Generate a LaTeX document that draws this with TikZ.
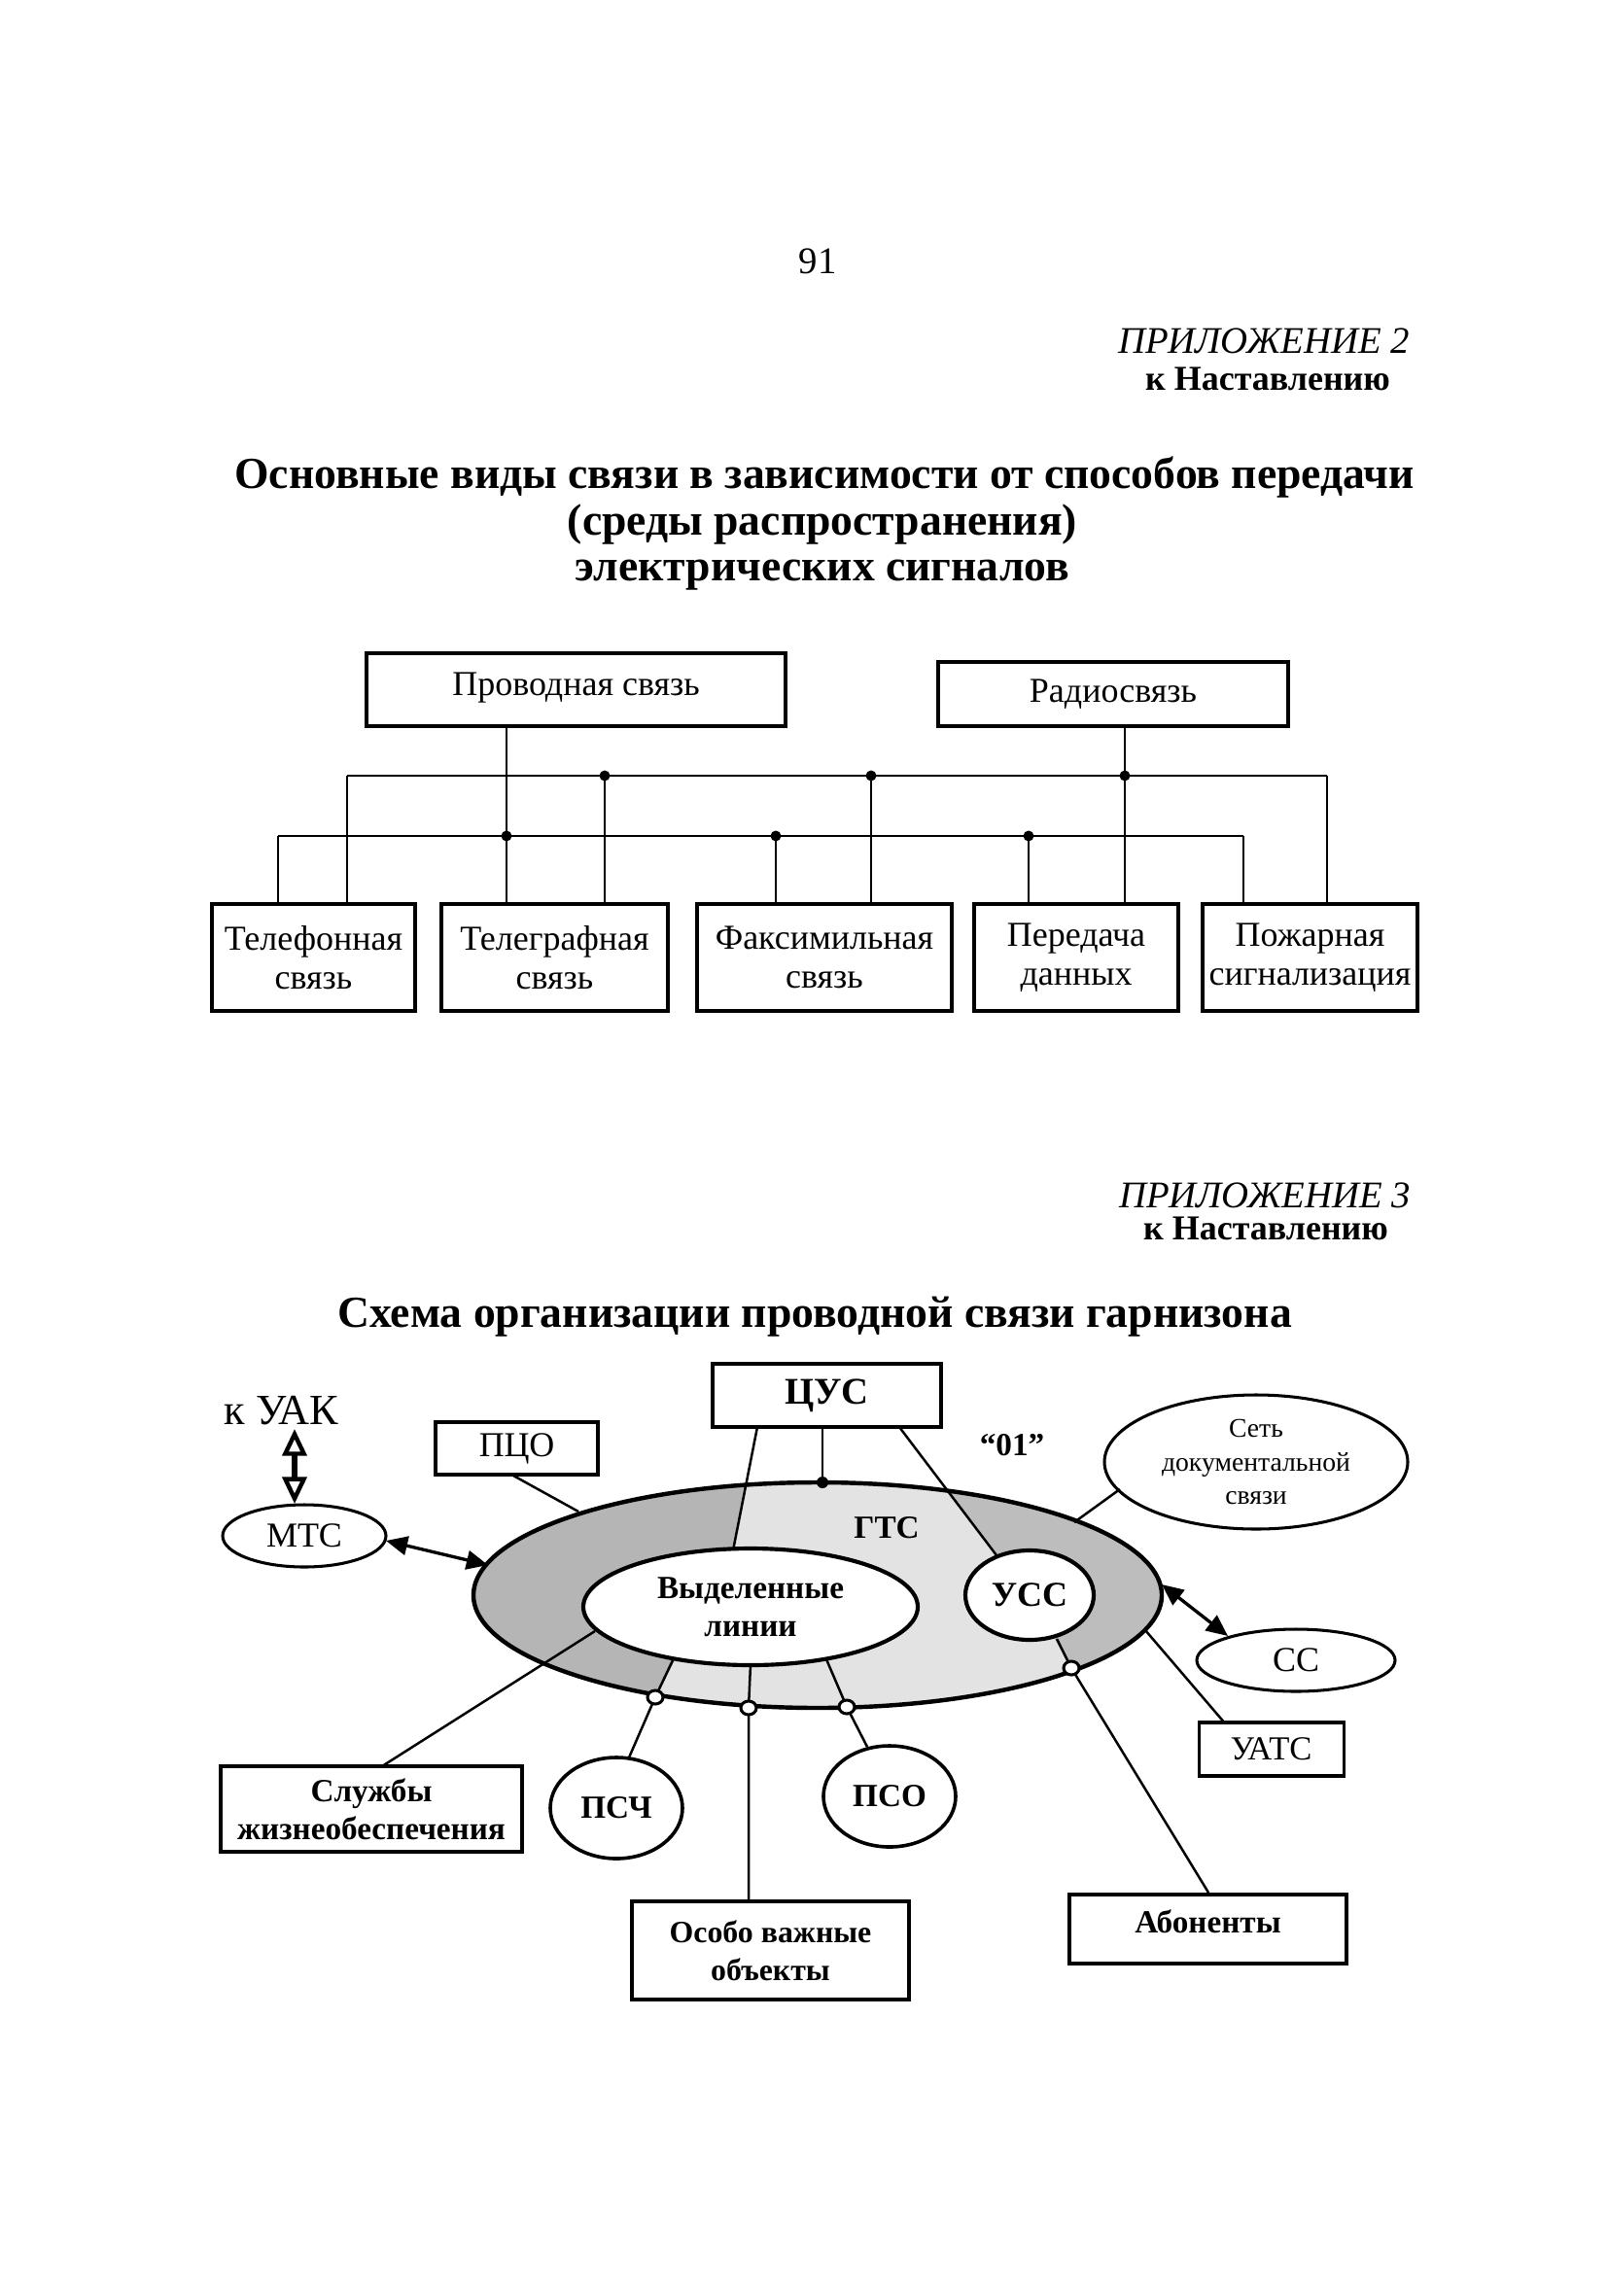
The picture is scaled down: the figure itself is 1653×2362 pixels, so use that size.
\documentclass[tikz,border=0pt]{standalone}
\usepackage{fontspec}
\setmainfont{Liberation Serif}
\usetikzlibrary{shapes.geometric,arrows.meta}
\def\pxu{0.36135pt}
\begin{document}
\begin{tikzpicture}[x=0.36135pt,y=-0.36135pt,
  box/.style={draw, line width=1.5pt, rectangle, inner sep=0pt, align=center},
  thinbox/.style={draw, line width=1.1pt, rectangle, inner sep=0pt, align=center},
  ell/.style={draw, line width=1.1pt, ellipse, inner sep=0pt, align=center},
  conn/.style={line width=0.9pt},
  jdot/.style={fill=black},
  odot/.style={draw, line width=1.1pt, fill=white},
  ftitle/.style={font=\fontsize{16.5}{19}\selectfont\bfseries},
  fapp/.style={font=\fontsize{14}{16}\selectfont\itshape},
  fnast/.style={font=\fontsize{13}{15}\selectfont\bfseries},
  fbox/.style={font=\fontsize{13}{14.5}\selectfont},
  freg/.style={font=\fontsize{13}{15}\selectfont},
  fbold/.style={font=\fontsize{12}{14}\selectfont\bfseries},
  dblopen/.style={line width=2pt, {Triangle[open,length=10pt,width=9pt,line width=1.6pt]}-{Triangle[open,length=10pt,width=9pt,line width=1.6pt]}},
  dblfill/.style={line width=1.2pt, {Triangle[length=8pt,width=7pt]}-{Triangle[length=8pt,width=7pt]}}
]
\useasboundingbox (0,0) rectangle (1653,2362);

% ---------- header ----------
\node[font=\fontsize{14}{16}\selectfont, anchor=base] (pnum) at (841,282) {91};
\node[fapp, anchor=base east] (app2) at (1460,364) {ПРИЛОЖЕНИЕ 2};
\node[fnast, anchor=base] (nast2) at (1304,402) {к Наставлению};
\node[ftitle, anchor=base] (t1) at (848,503) {Основные виды связи в зависимости от способов передачи};
\node[ftitle, anchor=base] (t2) at (846,551) {(среды распространения)};
\node[ftitle, anchor=base] (t3) at (846,597) {электрических сигналов};

% ---------- diagram 1 ----------
\node[box, fbox, minimum width={431*\pxu}, minimum height={75*\pxu}] (prov) at (592.5,709.5) {\raisebox{4pt}{Проводная связь}};
\node[box, fbox, minimum width={360*\pxu}, minimum height={66*\pxu}] (radio) at (1145,714) {Радиосвязь};

\node[box, fbox, minimum width={209*\pxu}, minimum height={110*\pxu}] (tel) at (322.5,985) {Телефонная\\связь};
\node[box, fbox, minimum width={233*\pxu}, minimum height={110*\pxu}] (telg) at (570.5,985) {Телеграфная\\связь};
\node[box, fbox, minimum width={262*\pxu}, minimum height={110*\pxu}] (fax) at (848,985) {Факсимильная\\связь};
\node[box, fbox, minimum width={210*\pxu}, minimum height={110*\pxu}] (data) at (1107,985) {Передача\\данных};
\node[box, fbox, minimum width={221*\pxu}, minimum height={110*\pxu}] (fire) at (1347.5,985) {Пожарная\\сигнализация};

% bus coordinates
\coordinate (U1) at (357,798);
\coordinate (U2) at (622,798);
\coordinate (U3) at (896,798);
\coordinate (U4) at (1157,798);
\coordinate (U5) at (1365,798);
\coordinate (L1) at (286,860);
\coordinate (L2) at (521,860);
\coordinate (L3) at (798,860);
\coordinate (L4) at (1058,860);
\coordinate (L5) at (1279,860);

\draw[conn] (U1) -- (U5);
\draw[conn] (L1) -- (L5);
\draw[conn] (L2 |- prov.south) -- (L2 |- telg.north);
\draw[conn] (U4 |- radio.south) -- (U4 |- data.north);
\draw[conn] (U1) -- (U1 |- tel.north);
\draw[conn] (L1) -- (L1 |- tel.north);
\draw[conn] (U2) -- (U2 |- telg.north);
\draw[conn] (U3) -- (U3 |- fax.north);
\draw[conn] (L3) -- (L3 |- fax.north);
\draw[conn] (L4) -- (L4 |- data.north);
\draw[conn] (U5) -- (U5 |- fire.north);
\draw[conn] (L5) -- (L5 |- fire.north);
\foreach \p in {U2,U3,U4,L2,L3,L4} \fill[jdot] (\p) circle [radius=5.5];

% ---------- header 2 ----------
\node[fapp, anchor=base east] (app3) at (1461,1242) {ПРИЛОЖЕНИЕ 3};
\node[fnast, anchor=base] (nast3) at (1302,1275) {к Наставлению};
\node[ftitle, anchor=base] (t4) at (838,1365) {Схема организации проводной связи гарнизона};

% ---------- diagram 2 ----------
% ring shading
\begin{scope}
\clip (841,1641) ellipse [x radius=354, y radius=116];
\fill[gray!22] (480,1515) rectangle (1205,1765);
\fill[gray!58] (480,1500) -- (773,1500) -- (754,1595) -- (692,1712) -- (674,1747) -- (660,1780) -- (480,1780) -- cycle;
\fill[gray!52] (949,1500) -- (1025,1600) -- (1059,1641) -- (1102,1715) -- (1120,1780) -- (1210,1780) -- (1210,1500) -- cycle;
\end{scope}
\node[ell, line width=1.6pt, minimum width={708*\pxu}, minimum height={232*\pxu}] (gts) at (841,1641) {};
\node[ell, line width=1.5pt, fill=white, fbold, minimum width={344*\pxu}, minimum height={120*\pxu}] (vl) at (772,1653) {Выделенные\\линии};
\node[ell, line width=1.5pt, fill=white, font=\fontsize{13}{15}\selectfont\bfseries, minimum width={132*\pxu}, minimum height={92*\pxu}] (uss) at (1059,1641) {УСС};
\node[font=\fontsize{12}{14}\selectfont\bfseries] (gtslab) at (912,1572) {ГТС};

\node[freg, font=\fontsize{16}{18}\selectfont, anchor=base] (kuak) at (289,1465) {к УАК};
\node[ell, freg, minimum width={168*\pxu}, minimum height={64*\pxu}] (mts) at (313,1580) {МТС};
\node[thinbox, freg, minimum width={167*\pxu}, minimum height={54*\pxu}] (pco) at (531.5,1490) {ПЦО};
\node[box, font=\fontsize{14}{16}\selectfont\bfseries, minimum width={235*\pxu}, minimum height={65*\pxu}] (cus) at (850.5,1435.5) {ЦУС};
\node[font=\fontsize{12}{14}\selectfont\bfseries] (q01) at (1041,1487) {“01”};
\node[ell, font=\fontsize{10}{12.5}\selectfont, minimum width={312*\pxu}, minimum height={138*\pxu}] (set) at (1292,1504) {Сеть\\документальной\\связи};
\node[ell, freg, minimum width={204*\pxu}, minimum height={64*\pxu}] (ss) at (1333,1708) {СС};
\node[thinbox, font=\fontsize{12.5}{15}\selectfont, minimum width={149*\pxu}, minimum height={55*\pxu}] (uats) at (1307.5,1799.5) {УАТС};
\node[box, fbold, minimum width={285*\pxu}, minimum height={71*\pxu}] (abon) at (1242.5,1984.5) {\raisebox{6pt}{Абоненты}};
\node[box, fbold, minimum width={310*\pxu}, minimum height={88*\pxu}] (sluzh) at (382,1861) {Службы\\жизнеобеспечения};
\node[ell, line width=1.3pt, fbold, minimum width={136*\pxu}, minimum height={104*\pxu}] (psch) at (634,1860) {ПСЧ};
\node[ell, line width=1.3pt, fbold, minimum width={136*\pxu}, minimum height={104*\pxu}] (pso) at (915,1848) {ПСО};
\node[box, font=\fontsize{11.5}{14}\selectfont\bfseries, minimum width={285*\pxu}, minimum height={101*\pxu}] (osobo) at (792.5,2006.5) {Особо важные\\объекты};

% junction coordinates
\coordinate (ka) at (303,1470);
\coordinate (kb) at (303,1547);
\coordinate (m1) at (397,1585);
\coordinate (g1) at (502,1610);
\coordinate (pc1) at (528,1518);
\coordinate (g2) at (595,1555);
\coordinate (c1) at (779,1468);
\coordinate (v1) at (754,1595);
\coordinate (c2) at (846,1468);
\coordinate (g3) at (846,1525);
\coordinate (c3) at (925,1468);
\coordinate (u1) at (1025,1600);
\coordinate (s1) at (1152,1532);
\coordinate (g4) at (1105,1566);
\coordinate (g5) at (1195,1630);
\coordinate (ss1) at (1263,1683);
\coordinate (g6) at (1178,1677);
\coordinate (u2) at (1087,1686);
\coordinate (o4) at (1102,1716);
\coordinate (sl1) at (393,1817);
\coordinate (v2) at (612,1678);
\coordinate (v3) at (692,1708);
\coordinate (o1) at (674,1746);
\coordinate (ps1) at (647,1808);
\coordinate (v4) at (772,1712);
\coordinate (o2) at (770,1757);
\coordinate (v5) at (850,1707);
\coordinate (o3) at (871,1756);
\coordinate (po1) at (892,1797);

% connectors
\draw[dblopen] (ka) -- (kb);
\draw[dblfill] (m1) -- (g1);
\draw[dblfill] (g5) -- (ss1);
\draw[conn] (pc1) -- (g2);
\draw[conn] (c1) -- (v1);
\draw[conn] (c2) -- (g3);
\fill[jdot] (g3) circle [radius=6];
\draw[conn] (c3) -- (u1);
\draw[conn] (s1) -- (g4);
\draw[conn] (g6) -- (uats.north west -| 1258,0);
\draw[conn] (u2) -- (o4) -- (abon.north -| 1243,0);
\draw[conn] (sl1) -- (v2);
\draw[conn] (v3) -- (o1) -- (ps1);
\draw[conn] (v4) -- (o2) -- (osobo.north -| o2);
\draw[conn] (v5) -- (o3) -- (po1);
\foreach \p in {o1,o2,o3,o4} \draw[odot] (\p) ellipse [x radius=8, y radius=7];
\end{tikzpicture}
\end{document}
